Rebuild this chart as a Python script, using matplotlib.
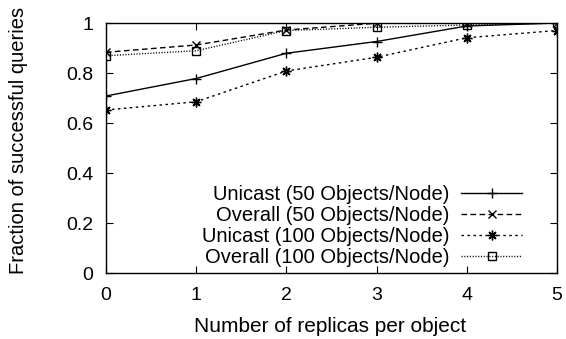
import matplotlib
matplotlib.use("Agg")
import matplotlib.pyplot as plt

replicas = [0, 1, 2, 3, 4, 5]
unicast_50 = [0.708, 0.778, 0.879, 0.926, 0.988, 1.0]
overall_50 = [0.883, 0.912, 0.972, 0.999, 1.0, 1.0]
unicast_100 = [0.652, 0.685, 0.808, 0.863, 0.941, 0.970]
overall_100 = [0.869, 0.889, 0.970, 0.983, 0.992, 1.0]

plt.rcParams['font.family'] = ['Liberation Sans', 'DejaVu Sans']
plt.rcParams['font.size'] = 14

fig = plt.figure(figsize=(5.66, 3.39), dpi=100)
ax = fig.add_axes([106/566, 1 - 273/339, 451/566, 250/339])

ax.plot(replicas, unicast_50, color='black', lw=1, ls='-', marker='+', ms=7, mew=1,
        label='Unicast (50 Objects/Node)')
ax.plot(replicas, overall_50, color='black', lw=1, ls=(0, (4, 2.5)), marker='x', ms=6, mew=1,
        label='Overall (50 Objects/Node)')
ax.plot(replicas, unicast_100, color='black', lw=1, ls=(0, (1.8, 2.5)), marker=(8, 2, 0), ms=7, mew=1,
        label='Unicast (100 Objects/Node)')
ax.plot(replicas, overall_100, color='black', lw=1, ls=(0, (0.8, 1.2)), marker='s', ms=6, mew=1,
        mfc='none', label='Overall (100 Objects/Node)')

ax.set_xlim(0, 5)
ax.set_ylim(0, 1)
ax.set_xticks(replicas)
ax.set_yticks([0, 0.2, 0.4, 0.6, 0.8, 1])
ax.set_yticklabels(['0', '0.2', '0.4', '0.6', '0.8', '1'])
ax.tick_params(direction='in', length=5, top=True, right=True)
ax.tick_params(axis='x', pad=10)
ax.tick_params(axis='y', pad=9)
for s in ax.spines.values():
    s.set_linewidth(1)

ax.set_xlabel('Number of replicas per object', fontsize=15, va='center')
ax.set_ylabel('Fraction of successful queries', fontsize=14.5, va='center')
ax.xaxis.set_label_coords(0.497, -0.216)
ax.yaxis.set_label_coords(-0.195, 0.532)

ax.legend(loc='lower right', markerfirst=False, frameon=False, handlelength=3.0,
          labelspacing=0.1, borderaxespad=0.0, handletextpad=0.6,
          fontsize=14.5, bbox_to_anchor=(0.94, -0.01))

fig.savefig('out.png', dpi=100)
